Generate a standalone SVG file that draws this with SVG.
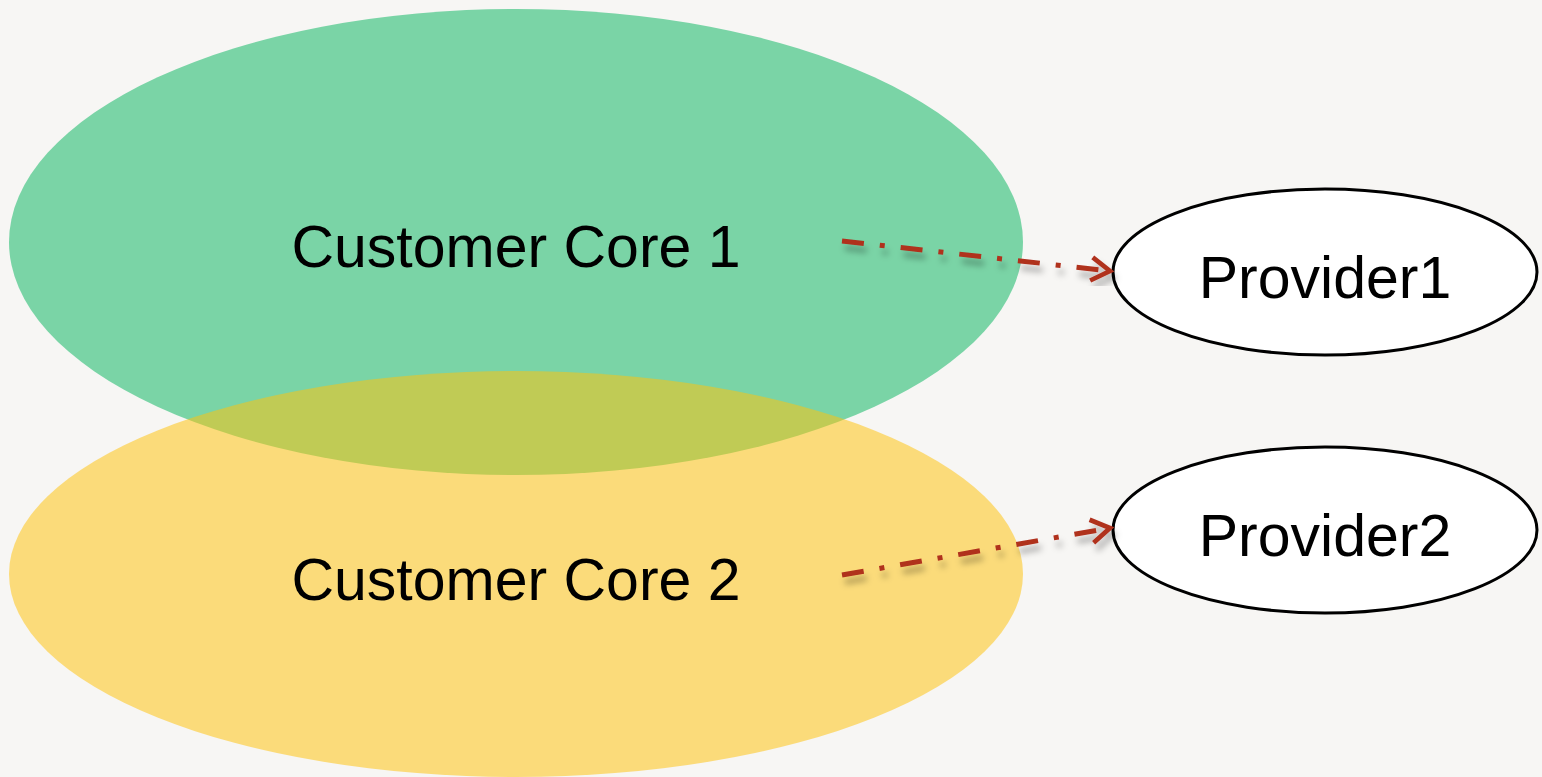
<svg xmlns="http://www.w3.org/2000/svg" width="1542" height="777" viewBox="0 0 1542 777">
  <style>
    .label { font-family: "Liberation Sans", Arial, sans-serif; font-size: 59px; fill: #000; text-anchor: middle; }
    .provider { fill: #fff; stroke: #000; stroke-width: 3; }
    .link { fill: none; stroke: #B0301F; stroke-width: 5; stroke-dasharray: 22 16 5 16; filter: url(#shadow); }
  </style>
  <defs>
    <filter id="shadow" x="-10%" y="-50%" width="120%" height="200%">
      <feDropShadow dx="3" dy="7" stdDeviation="3" flood-color="#000" flood-opacity="0.3"/>
    </filter>
    <marker id="chevron" viewBox="0 0 12 12" refX="10" refY="6" markerWidth="5.6" markerHeight="5.6" orient="auto" markerUnits="strokeWidth">
      <path d="M2,1 L10,6 L2,11" fill="none" stroke="#B0301F" stroke-width="2"/>
    </marker>
  </defs>

  <rect width="1542" height="777" fill="#F7F6F4"/>

  <g id="core1">
    <ellipse cx="516" cy="242" rx="507" ry="233" fill="#7AD4A6"/>
  </g>
  <g id="core2">
    <ellipse cx="516" cy="574" rx="507" ry="203" fill="#FFC30E" fill-opacity="0.53"/>
  </g>
  <text class="label" x="516" y="267">Customer Core 1</text>
  <text class="label" x="516" y="600">Customer Core 2</text>

  <g id="provider1">
    <ellipse class="provider" cx="1325" cy="272" rx="212" ry="83"/>
    <text class="label" x="1325" y="298">Provider1</text>
  </g>
  <g id="provider2">
    <ellipse class="provider" cx="1325" cy="530" rx="212" ry="83"/>
    <text class="label" x="1325" y="556">Provider2</text>
  </g>

  <g id="connectors">
    <path class="link" d="M842,241 L1110,271" marker-end="url(#chevron)"/>
    <path class="link" d="M842,575 L1110,528" marker-end="url(#chevron)"/>
  </g>
</svg>
